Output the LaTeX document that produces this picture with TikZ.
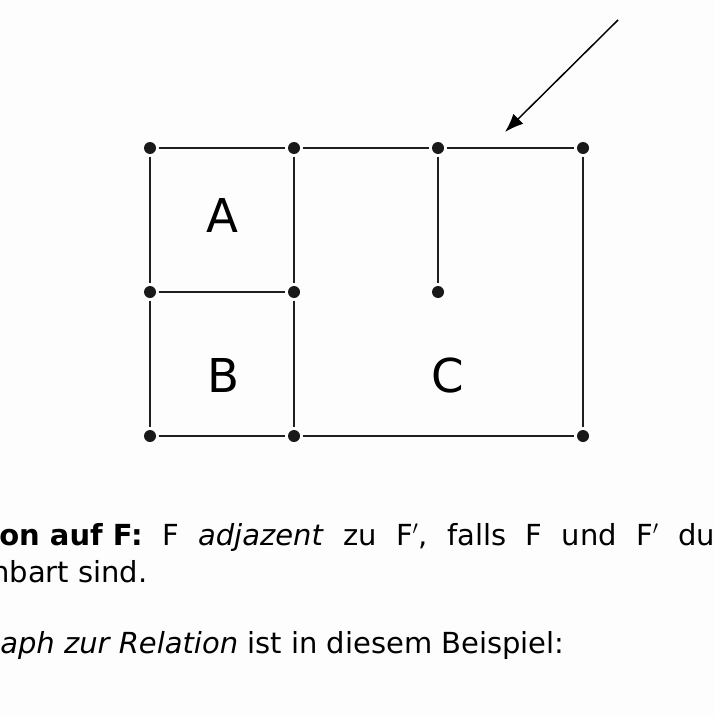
\documentclass[tikz,border=0pt]{standalone}
\usepackage{fontspec}
\setmainfont{DejaVu Sans}
\usetikzlibrary{arrows.meta}

\begin{document}
\begin{tikzpicture}[x=0.75pt, y=-0.75pt,
    vertex/.style={circle, fill=black!90, inner sep=0pt, minimum size=9pt, outer sep=2pt},
    edge/.style={line width=1.5pt, black!88},
    face/.style={inner sep=0pt, anchor=base, font=\fontsize{35}{42}\selectfont},
    textline/.style={inner sep=0pt, anchor=base west, font=\fontsize{21.75}{26}\selectfont}]
    \useasboundingbox[fill={rgb,255:red,253;green,253;blue,253}] (0, 0) rectangle (715, 717);
    % Ecken
    \node[vertex] (p11) at (150, 148) {};
    \node[vertex] (p12) at (294, 148) {};
    \node[vertex] (p13) at (438, 148) {};
    \node[vertex] (p14) at (583, 148) {};
    \node[vertex] (p21) at (150, 292) {};
    \node[vertex] (p22) at (294, 292) {};
    \node[vertex] (p23) at (438, 292) {};
    \node[vertex] (p31) at (150, 436) {};
    \node[vertex] (p32) at (294, 436) {};
    \node[vertex] (p34) at (583, 436) {};
    % Kanten
    \draw[edge] (p11) -- (p12) -- (p13) -- (p14);
    \draw[edge] (p21) -- (p22);
    \draw[edge] (p31) -- (p32) -- (p34);
    \draw[edge] (p11) -- (p21) -- (p31);
    \draw[edge] (p12) -- (p22) -- (p32);
    \draw[edge] (p13) -- (p23);
    \draw[edge] (p14) -- (p34);
    % Pfeil
    \coordinate (pfeil) at (618, 20);
    \coordinate (spitze) at (505, 132);
    \draw[line width=1.1pt, -{Latex[length=14pt, width=10.5pt]}] (pfeil) -- (spitze);
    % Flaechen
    \node[face] (A) at (222, 232) {A};
    \node[face] (B) at (223.5, 392) {B};
    \node[face] (C) at (448, 392) {C};
    % Text
    \node[textline] (zeile1) at (-1, 545) {\textbf{on auf F:}\spaceskip=14.5pt\relax{} F \textit{adjazent} zu F$^{\prime}$, falls F und F$^{\prime}$ du};
    \node[textline] (zeile2) at (-9, 582) {nbart sind.};
    \node[textline] (zeile3) at (0, 653) {\textit{aph zur Relation} ist in diesem Beispiel:};
\end{tikzpicture}
\end{document}
